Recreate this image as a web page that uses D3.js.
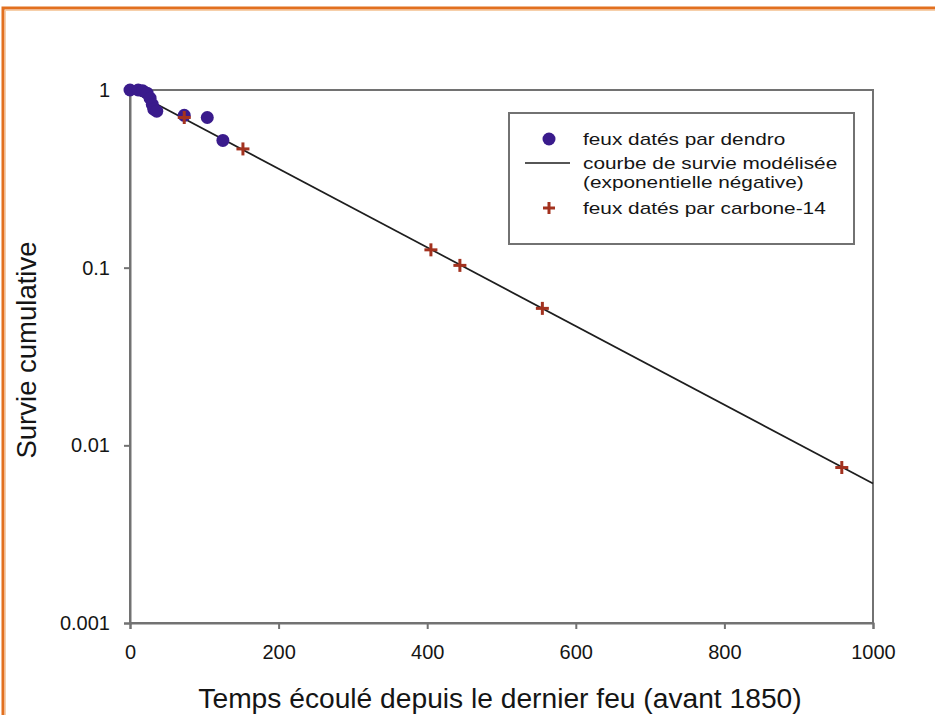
<!DOCTYPE html>
<html>
<head>
<meta charset="utf-8">
<script src="https://cdn.jsdelivr.net/npm/d3@7"></script>
<style>
  body { margin: 0; background: #fff; }
  text { font-family: "Liberation Sans", Arial, sans-serif; fill: #151515; }
</style>
</head>
<body>
<svg id="chart"></svg>
<script>
// fires dated by dendrochronology (age in years, cumulative survival)
var dendroAges = [0, 11, 17, 23, 27, 30, 32, 36, 73, 104, 125];
var dendroSurvival = [1, 1, 0.99, 0.96, 0.90, 0.83, 0.78, 0.76, 0.72, 0.70, 0.52];

// fires dated by carbon-14
var c14Ages = [73, 152, 405, 444, 555, 958];
var c14Survival = [0.70, 0.466, 0.126, 0.103, 0.059, 0.0075];

// modelled survival curve (negative exponential, straight on log axis)
var modelAges = [0, 1000];
var modelSurvival = [1, 0.0061];

var xTicks = [0, 200, 400, 600, 800, 1000];
var yTicks = [1, 0.1, 0.01, 0.001];
var yTickLabels = ["1", "0.1", "0.01", "0.001"];

var legendLabels = ["feux datés par dendro", "courbe de survie modélisée", "(exponentielle négative)", "feux datés par carbone-14"];

var W = 935, H = 715;
var margin = {top: 90, right: 62, bottom: 92, left: 130},
    width = W - margin.left - margin.right,
    height = H - margin.top - margin.bottom;

var dotColor = "#3a1b8c", crossColor = "#a3321f", frameColor = "#727272";

var svg = d3.select("#chart").attr("width", W).attr("height", H);

// orange page frame
svg.append("rect")
    .attr("x", 3).attr("y", 8)
    .attr("width", 1200).attr("height", 1200)
    .attr("fill", "none")
    .attr("stroke", "#e2701f")
    .attr("stroke-width", 3);
svg.append("rect")
    .attr("x", 5.5).attr("y", 10.5)
    .attr("width", 1200).attr("height", 1200)
    .attr("fill", "none")
    .attr("stroke", "#f6cfaa")
    .attr("stroke-width", 1);

var g = svg.append("g")
    .attr("transform", "translate(" + margin.left + "," + margin.top + ")");

var x = d3.scaleLinear().domain([0, 1000]).range([0, width]);
var y = d3.scaleLog().domain([0.001, 1]).range([height, 0]);

// plot frame
g.append("rect")
    .attr("width", width).attr("height", height)
    .attr("fill", "none")
    .attr("stroke", frameColor)
    .attr("stroke-width", 2);

// axes
var xAxis = g.append("g")
    .attr("transform", "translate(0," + height + ")")
    .call(d3.axisBottom(x).tickValues(xTicks).tickSize(6).tickPadding(16).tickFormat(d3.format("d")));
var yAxis = g.append("g")
    .call(d3.axisLeft(y).tickValues(yTicks).tickSize(6).tickPadding(14)
      .tickFormat(function(d, i) { return yTickLabels[i]; }));

[xAxis, yAxis].forEach(function(a) {
  a.select(".domain").attr("stroke", frameColor).attr("stroke-width", 2);
  a.selectAll(".tick line").attr("stroke", frameColor).attr("stroke-width", 2);
  a.selectAll(".tick text")
    .attr("fill", "#151515")
    .style("font-family", "'Liberation Sans', Arial, sans-serif")
    .style("font-size", "20px");
});

// axis titles
svg.append("text")
    .attr("x", 500).attr("y", 708)
    .attr("text-anchor", "middle")
    .style("font-size", "28.2px")
    .text("Temps écoulé depuis le dernier feu (avant 1850)");

svg.append("text")
    .attr("transform", "translate(36,350) rotate(-90)")
    .attr("text-anchor", "middle")
    .style("font-size", "27.5px")
    .text("Survie cumulative");

// model line
var line = d3.line()
    .x(function(d) { return x(d[0]); })
    .y(function(d) { return y(d[1]); });

g.append("path")
    .datum(d3.zip(modelAges, modelSurvival))
    .attr("d", line)
    .attr("fill", "none")
    .attr("stroke", "#1e1e1e")
    .attr("stroke-width", 1.7);

// dendro dots
g.selectAll(".dendro")
    .data(d3.zip(dendroAges, dendroSurvival))
  .enter().append("circle")
    .attr("class", "dendro")
    .attr("cx", function(d) { return x(d[0]); })
    .attr("cy", function(d) { return y(d[1]); })
    .attr("r", 6.5)
    .attr("fill", dotColor);

// carbon-14 crosses
function cross(sel, size) {
  sel.append("line").attr("x1", -size).attr("x2", size).attr("y1", 0).attr("y2", 0);
  sel.append("line").attr("x1", 0).attr("x2", 0).attr("y1", -size).attr("y2", size);
  sel.selectAll("line").attr("stroke", crossColor).attr("stroke-width", 3);
}
var c14 = g.selectAll(".c14")
    .data(d3.zip(c14Ages, c14Survival))
  .enter().append("g")
    .attr("class", "c14")
    .attr("transform", function(d) { return "translate(" + x(d[0]) + "," + y(d[1]) + ")"; });
cross(c14, 6.5);

// legend
var legend = svg.append("g");
legend.append("rect")
    .attr("x", 509).attr("y", 113)
    .attr("width", 345).attr("height", 131)
    .attr("fill", "#fff")
    .attr("stroke", frameColor)
    .attr("stroke-width", 2);

var legendRows = [139, 163, 182, 208];
legend.append("circle").attr("cx", 549).attr("cy", legendRows[0]).attr("r", 6.5).attr("fill", dotColor);
legend.append("line")
    .attr("x1", 525).attr("x2", 570)
    .attr("y1", legendRows[1]).attr("y2", legendRows[1])
    .attr("stroke", "#1e1e1e").attr("stroke-width", 1.7);
cross(legend.append("g").attr("transform", "translate(549," + legendRows[3] + ")"), 6);

legend.selectAll(".leg-text")
    .data(legendLabels)
  .enter().append("text")
    .attr("class", "leg-text")
    .attr("transform", function(d, i) { return "translate(583," + legendRows[i] + ") scale(1.3,1)"; })
    .attr("dy", "0.35em")
    .style("font-size", "16px")
    .text(function(d) { return d; });
</script>
</body>
</html>
